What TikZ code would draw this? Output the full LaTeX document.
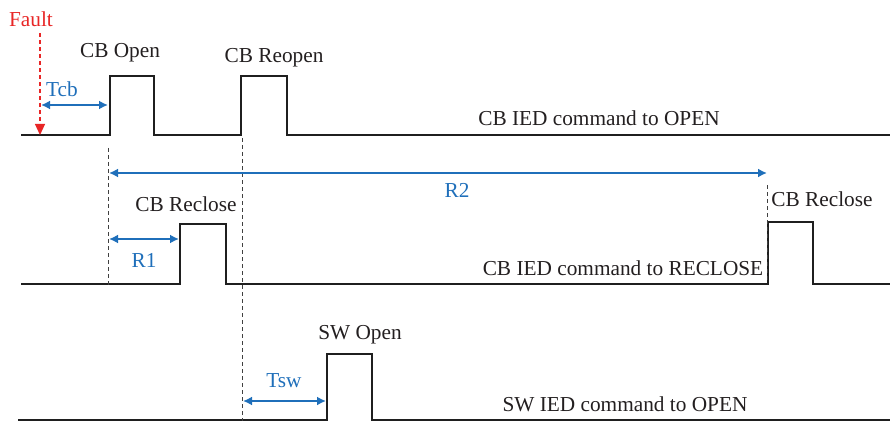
\documentclass[tikz,border=0pt]{standalone}
\usepackage{fontspec}
\setmainfont{Liberation Serif}
\usetikzlibrary{arrows.meta}
\definecolor{mblue}{RGB}{31,111,186}
\definecolor{mred}{RGB}{232,38,38}
\definecolor{mtext}{RGB}{35,31,32}
\tikzset{
  wave/.style={line width=2.8pt, draw=black!88, line join=miter},
  guide/.style={line width=0.9pt, draw=black!75, dash pattern=on 4pt off 3pt},
  span/.style={line width=2.4pt, draw=mblue, {Latex[length=9pt,width=9pt]}-{Latex[length=9pt,width=9pt]}},
  lbl/.style={font=\fontsize{21.3}{23}\selectfont, text=mtext, inner sep=0pt},
  blbl/.style={font=\fontsize{21.3}{23}\selectfont, text=mblue, inner sep=0pt},
  rlbl/.style={font=\fontsize{21.3}{23}\selectfont, text=mred, inner sep=0pt},
}
\begin{document}
\begin{tikzpicture}[x=1pt,y=-1pt]
\useasboundingbox (0,0) rectangle (890,422);
% waveforms
\draw[wave] (21,135) -- (110,135) -- (110,76) -- (154,76) -- (154,135) -- (241,135) -- (241,76) -- (287,76) -- (287,135) -- (890,135);
\draw[wave] (21,284) -- (180,284) -- (180,224) -- (226,224) -- (226,284) -- (768,284) -- (768,222) -- (813,222) -- (813,284) -- (890,284);
\draw[wave] (18,420) -- (327,420) -- (327,354) -- (372,354) -- (372,420) -- (890,420);
% guide coordinates
\coordinate (g1t) at (108,148); \coordinate (g1b) at (108,286);
\coordinate (g2t) at (242,138); \coordinate (g2b) at (242,421);
\coordinate (g3t) at (767,185); \coordinate (g3b) at (767,282);
\draw[guide] (g1t) -- (g1b);
\draw[guide] (g2t) -- (g2b);
\draw[guide] (g3t) -- (g3b);
% fault
\node[rlbl] (fault) at (31,19) {Fault};
\coordinate (faultTop) at (40,33);
\coordinate (faultMid) at (40,125);
\coordinate (faultTip) at (40,135);
\draw[draw=mred, line width=1.2pt, dash pattern=on 4pt off 3pt] (faultTop) -- (faultMid);
\draw[draw=mred, line width=1.2pt, -{Triangle[length=11pt,width=10pt]}] (faultMid) -- (faultTip);
% spans
\coordinate (tcbA) at (41,105); \coordinate (tcbB) at (108,105);
\draw[span] (tcbA) -- (tcbB);
\coordinate (r2A) at (109,173); \coordinate (r2B) at (767,173);
\draw[span] (r2A) -- (r2B);
\coordinate (r1A) at (109,239); \coordinate (r1B) at (179,239);
\draw[span] (r1A) -- (r1B);
\coordinate (tswA) at (243,401); \coordinate (tswB) at (326,401);
\draw[span] (tswA) -- (tswB);
% labels
\node[blbl] (tcb) at (62,89) {Tcb};
\node[blbl] (r2) at (457,190) {R2};
\node[blbl] (r1) at (144,260) {R1};
\node[blbl] (tsw) at (284,381) {Tsw};
\node[lbl] (cbopen) at (120,53) {CB Open};
\node[lbl] (cbreopen) at (274,58) {CB Reopen};
\node[lbl] (cmd1) at (599,118) {CB IED command to OPEN};
\node[lbl] (cbre1) at (186,204) {CB Reclose};
\node[lbl] (cbre2) at (822,199) {CB Reclose};
\node[lbl] (cmd2) at (623,268) {CB IED command to RECLOSE};
\node[lbl] (swopen) at (360,335) {SW Open};
\node[lbl] (cmd3) at (625,404) {SW IED command to OPEN};
\end{tikzpicture}
\end{document}
